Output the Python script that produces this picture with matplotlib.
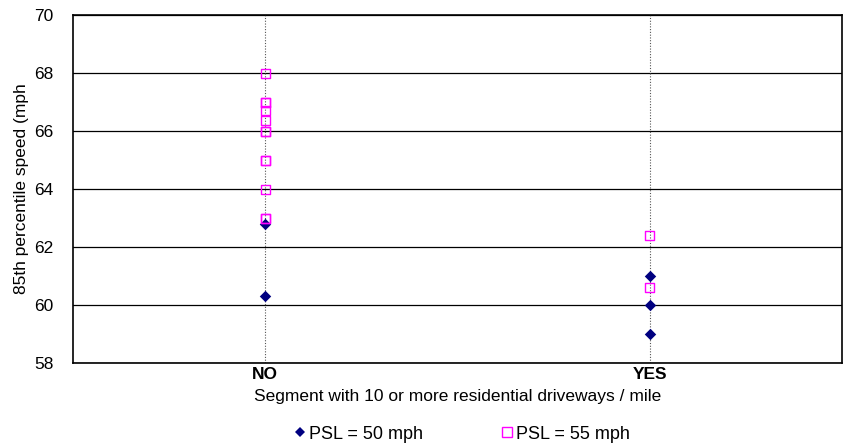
import matplotlib.pyplot as plt
from matplotlib.lines import Line2D

plt.rcParams['font.family'] = ['Liberation Sans', 'DejaVu Sans']

categories = ["NO", "YES"]
# PSL = 50 mph
psl50_cat = ["NO", "NO", "YES", "YES", "YES"]
psl50_speed = [62.8, 60.3, 61.0, 60.0, 59.0]
# PSL = 55 mph
psl55_cat = ["NO", "NO", "NO", "NO", "NO", "NO", "NO", "NO", "NO", "NO", "NO", "NO",
             "YES", "YES"]
psl55_speed = [68.0, 67.0, 67.0, 66.7, 66.35, 66.0, 66.0, 65.0, 65.0, 64.0, 63.0, 63.0,
               62.4, 60.6]
yticks = [58, 60, 62, 64, 66, 68, 70]

fig = plt.figure(figsize=(8.45, 4.48), dpi=100)
ax = fig.add_axes([0.0864, 0.1897, 0.9100, 0.7768])

# horizontal grid (solid) and category lines (dotted)
for y in yticks:
    ax.axhline(y, color="black", lw=0.9, zorder=1)
for i in range(len(categories)):
    ax.axvline(i, color="#555555", lw=0.8, ls=(0, (1, 1.5)), zorder=1)

x50 = [categories.index(c) for c in psl50_cat]
x55 = [categories.index(c) for c in psl55_cat]
ax.scatter(x50, psl50_speed, marker="D", s=34, color="#000080", zorder=3, linewidths=0)
ax.scatter(x55, psl55_speed, marker="s", s=42, facecolors="none", edgecolors="#FF00FF",
           linewidths=1.0, zorder=3)

ax.set_xlim(-0.5, 1.5)
ax.set_ylim(58, 70)
ax.set_yticks(yticks)
ax.set_xticks(range(len(categories)))
ax.set_xticklabels(categories, fontweight="bold")
ax.tick_params(length=0, labelsize=12.5)
ax.tick_params(axis="y", pad=14)
ax.tick_params(axis="x", pad=3)
for s in ax.spines.values():
    s.set_linewidth(1.2)
    s.set_color("black")

ax.set_xlabel("Segment with 10 or more residential driveways / mile", fontsize=12.5, labelpad=5)
ax.set_ylabel("85th percentile speed (mph", fontsize=12.5, labelpad=4)

handles = [
    Line2D([], [], marker="D", ls="none", color="#000080", markersize=5.5, markeredgewidth=0),
    Line2D([], [], marker="s", ls="none", markerfacecolor="none", markeredgecolor="#FF00FF",
           markersize=6.5, markeredgewidth=1.0),
]
fig.legend(handles, ["PSL = 50 mph", "PSL = 55 mph"], loc="center", bbox_to_anchor=(0.546, 0.031),
           ncol=2, frameon=False, fontsize=13, handletextpad=0.05, columnspacing=4.3,
           handlelength=0.8)

fig.savefig("out.png", dpi=100)
